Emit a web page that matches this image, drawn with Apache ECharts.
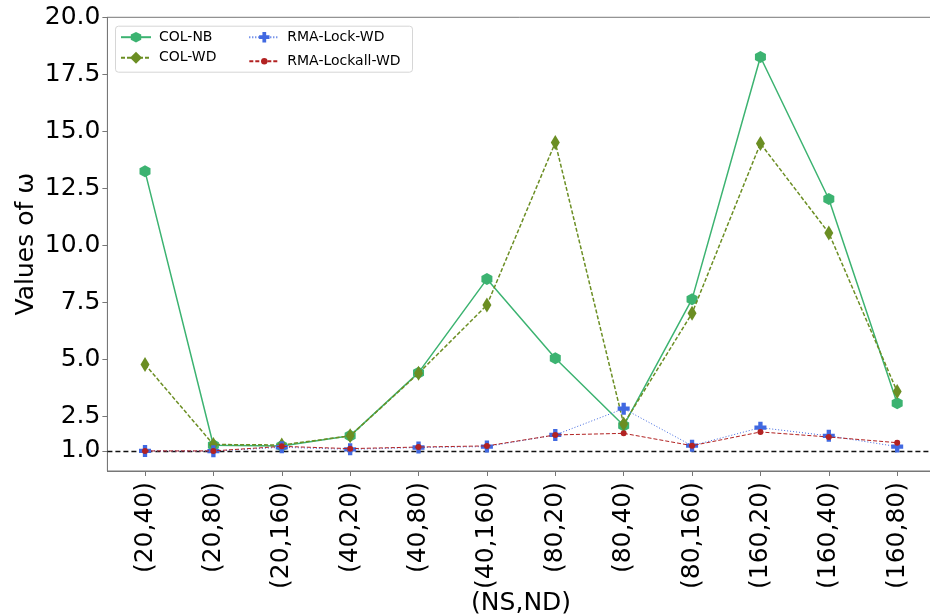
<!DOCTYPE html>
<html>
<head>
<meta charset="utf-8">
<script src="https://cdn.jsdelivr.net/npm/echarts@6/dist/echarts.min.js"></script>
<style>html,body{margin:0;padding:0;background:#fff;}#c{width:930px;height:615px;}</style>
</head>
<body>
<div id="c"></div>
<script>
const categories = ['(20,40)','(20,80)','(20,160)','(40,20)','(40,80)','(40,160)','(80,20)','(80,40)','(80,160)','(160,20)','(160,40)','(160,80)'];
const colNB       = [13.25, 1.25, 1.22, 1.66, 4.43, 8.53, 5.06, 2.11, 7.65, 18.26, 12.04, 3.09];
const colWD       = [4.79, 1.28, 1.26, 1.66, 4.40, 7.39, 14.51, 2.18, 7.03, 14.47, 10.55, 3.60];
const rmaLockWD   = [1.00, 0.99, 1.16, 1.07, 1.15, 1.19, 1.70, 2.85, 1.23, 2.02, 1.66, 1.19];
const rmaLockallWD= [1.00, 1.00, 1.20, 1.10, 1.17, 1.22, 1.70, 1.77, 1.23, 1.83, 1.61, 1.36];
const yTicks = [1.0, 2.5, 5.0, 7.5, 10.0, 12.5, 15.0, 17.5, 20.0];
const baseline = 1.0;

const FONT = 'DejaVu Sans';
const hexPath = 'path://M0,-1 L0.866,-0.5 L0.866,0.5 L0,1 L-0.866,0.5 L-0.866,-0.5 Z';
const plusPath = 'path://M-0.18,-0.5 L0.18,-0.5 L0.18,-0.18 L0.5,-0.18 L0.5,0.18 L0.18,0.18 L0.18,0.5 L-0.18,0.5 L-0.18,0.18 L-0.5,0.18 L-0.5,-0.18 L-0.18,-0.18 Z';
const toPairs = arr => arr.map((v, i) => [i, v]);
const xIdx = categories.map((c, i) => i);

function legendItem(name, left, centerY, itemHeight) {
  return {
    data: [name], orient: 'vertical', left: left, top: centerY - itemHeight / 2, padding: 0,
    itemWidth: 30, itemHeight: itemHeight,
    textStyle: {fontFamily: FONT, fontSize: 14, color: '#000', padding: [0, 0, 0, 3]}
  };
}

const chart = echarts.init(document.getElementById('c'), null, {renderer: 'canvas'});
chart.setOption({
  animation: false,
  backgroundColor: '#fff',
  textStyle: {fontFamily: FONT},
  grid: {left: 107.4, top: 17.3, right: -4.8, bottom: 144, show: true, borderColor: '#777', borderWidth: 1,
         containLabel: false, outerBoundsMode: 'none'},
  legend: [
    legendItem('COL-NB', 120, 36.7, 13),
    legendItem('COL-WD', 120, 58.3, 15),
    legendItem('RMA-Lock-WD', 248.3, 36.7, 13),
    legendItem('RMA-Lockall-WD', 248.3, 58.3, 8)
  ],
  graphic: [{
    type: 'rect', left: 115, top: 25.7, z: 100, silent: true,
    shape: {width: 297, height: 46, r: 3},
    style: {fill: 'rgba(255,255,255,0)', stroke: '#d6d6d6', lineWidth: 1}
  }],
  xAxis: {
    type: 'value', min: -0.55, max: 11.55,
    name: '(NS,ND)', nameLocation: 'middle', nameGap: 120, nameMoveOverlap: false,
    nameTextStyle: {fontFamily: FONT, fontSize: 25, color: '#000'},
    axisLine: {show: true, onZero: false, lineStyle: {color: '#777', width: 1}},
    axisTick: {show: true, length: 5, customValues: xIdx, lineStyle: {color: '#777'}},
    axisLabel: {
      customValues: xIdx, rotate: 90, margin: 11,
      fontFamily: FONT, fontSize: 25, color: '#000',
      formatter: v => categories[Math.round(v)]
    },
    splitLine: {show: false}
  },
  yAxis: {
    type: 'value', min: 0.12, max: 20,
    name: 'Values of ω', nameLocation: 'middle', nameGap: 68, nameMoveOverlap: false,
    nameTextStyle: {fontFamily: FONT, fontSize: 25, color: '#000'},
    axisLine: {show: true, onZero: false, lineStyle: {color: '#777', width: 1}},
    axisTick: {show: true, length: 5, customValues: yTicks, lineStyle: {color: '#777'}},
    axisLabel: {
      customValues: yTicks, margin: 7,
      fontFamily: FONT, fontSize: 25, color: '#000',
      formatter: v => v.toFixed(1)
    },
    splitLine: {show: false}
  },
  series: [
    {
      name: 'COL-NB', type: 'line', data: toPairs(colNB),
      symbol: hexPath, symbolSize: [11, 12], symbolKeepAspect: false,
      itemStyle: {color: '#3cb371'}, lineStyle: {color: '#3cb371', width: 1.5, type: 'solid'},
      z: 3,
      markLine: {
        silent: true, symbol: 'none', label: {show: false},
        lineStyle: {color: '#111', width: 1.3, type: [5, 3]},
        data: [{yAxis: baseline}]
      }
    },
    {
      name: 'COL-WD', type: 'line', data: toPairs(colWD),
      symbol: 'diamond', symbolSize: [9, 15],
      itemStyle: {color: '#6b8e23'}, lineStyle: {color: '#6b8e23', width: 1.5, type: [4, 2]},
      z: 4
    },
    {
      name: 'RMA-Lock-WD', type: 'line', data: toPairs(rmaLockWD),
      symbol: plusPath, symbolSize: 12,
      itemStyle: {color: '#4169e1'}, lineStyle: {color: '#4169e1', width: 1, type: [1, 2]},
      z: 5
    },
    {
      name: 'RMA-Lockall-WD', type: 'line', data: toPairs(rmaLockallWD),
      symbol: 'circle', symbolSize: 6,
      itemStyle: {color: '#b22222'}, lineStyle: {color: '#b22222', width: 1, type: [4, 2]},
      z: 6
    }
  ]
});
</script>
</body>
</html>
